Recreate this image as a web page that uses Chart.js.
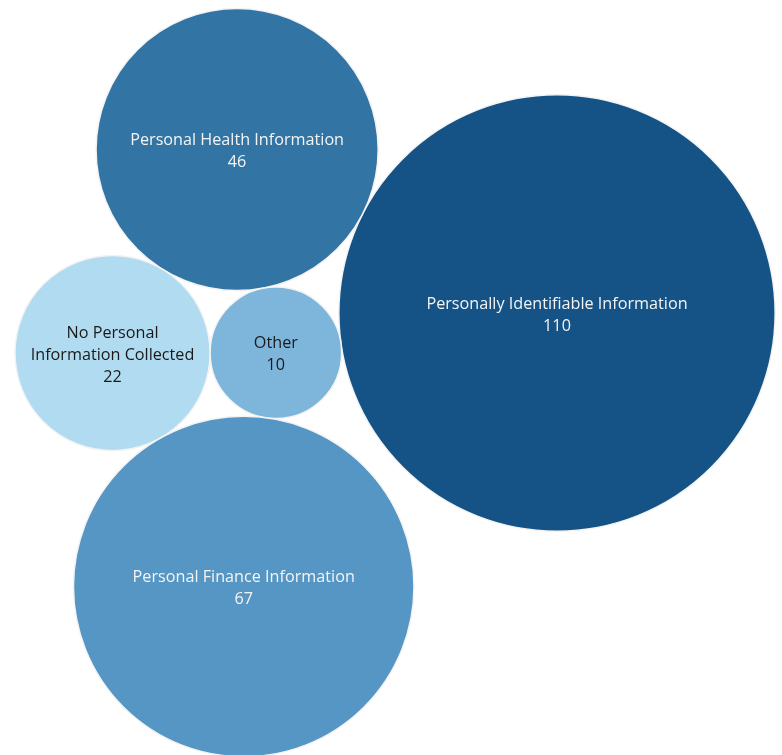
<!DOCTYPE html>
<html>
<head>
<meta charset="utf-8">
<script src="https://cdn.jsdelivr.net/npm/chart.js@4.4.1/dist/chart.umd.min.js"></script>
<style>
  html, body { margin: 0; padding: 0; background: #fff; }
  #wrap { width: 782px; height: 755px; position: relative; }
</style>
</head>
<body>
<div id="wrap"><canvas id="bubbleChart"></canvas></div>
<script>
// Data
const categories = [
    'Personally Identifiable Information',
    'Personal Health Information',
    'Other',
    'No Personal\nInformation Collected',
    'Personal Finance Information'
];
const counts = [110, 46, 10, 22, 67];

// Styles (one per category, same order)
const fillColors = ['#155387', '#3275a4', '#7eb6db', '#b0dbf0', '#5596c4'];
const textColors = ['#f4f4f4', '#f4f4f4', '#1a1a1a', '#1a1a1a', '#f4f4f4'];

// bubble area proportional to the count
const RADIUS_PER_SQRT = 20.8;
const radii = counts.map(v => RADIUS_PER_SQRT * Math.sqrt(v));

// Place circle c tangent to circles a and b (side picks which of the two spots)
function tangentTo(a, b, r, side) {
    const dx = b.x - a.x, dy = b.y - a.y;
    const d = Math.sqrt(dx * dx + dy * dy);
    const ux = dx / d, uy = dy / d;
    const da = a.r + r, db = b.r + r;
    const along = (da * da - db * db + d * d) / (2 * d);
    const h = Math.sqrt(Math.max(0, da * da - along * along));
    return {
        x: a.x + along * ux + side * h * -uy,
        y: a.y + along * uy + side * h * ux,
        r: r
    };
}

// Packed layout: biggest bubble at the origin, the rest chained around it
function packBubbles() {
    const first = { x: 0, y: 0, r: radii[0] };
    const ang = Math.atan2(-163, -319);
    const dist = radii[0] + radii[1];
    const second = { x: dist * Math.cos(ang), y: dist * Math.sin(ang), r: radii[1] };
    const third = tangentTo(first, second, radii[2], -1);
    const fourth = tangentTo(second, third, radii[3], 1);
    const fifth = tangentTo(fourth, third, radii[4], 1);
    return [first, second, third, fourth, fifth];
}

const points = packBubbles();

// text in the middle of each bubble: name lines, then the count
const bubbleLabels = {
    id: 'bubbleLabels',
    afterDatasetsDraw(chart) {
        const ctx = chart.ctx;
        const meta = chart.getDatasetMeta(0);
        ctx.save();
        ctx.font = '16.2px "Open Sans", sans-serif';
        ctx.textAlign = 'center';
        ctx.textBaseline = 'middle';
        meta.data.forEach((el, i) => {
            const lines = categories[i].split('\n').concat([String(counts[i])]);
            const lh = 22;
            const top = el.y + 2 - (lines.length - 1) * lh / 2;
            ctx.fillStyle = textColors[i];
            lines.forEach((t, j) => ctx.fillText(t, el.x, top + j * lh));
        });
        ctx.restore();
    }
};

new Chart(document.getElementById('bubbleChart'), {
    type: 'bubble',
    data: {
        datasets: [{
            data: points,
            backgroundColor: fillColors,
            borderColor: '#f3f3f3',
            borderWidth: 1.5,
            hoverRadius: 0
        }]
    },
    options: {
        responsive: true,
        maintainAspectRatio: false,
        animation: false,
        layout: { padding: 0, autoPadding: false },
        plugins: {
            legend: { display: false },
            tooltip: { enabled: false }
        },
        scales: {
            x: { type: 'linear', display: false, min: -557, max: 225 },
            y: { type: 'linear', display: false, reverse: true, min: -313, max: 442 }
        }
    },
    plugins: [bubbleLabels]
});
</script>
</body>
</html>
